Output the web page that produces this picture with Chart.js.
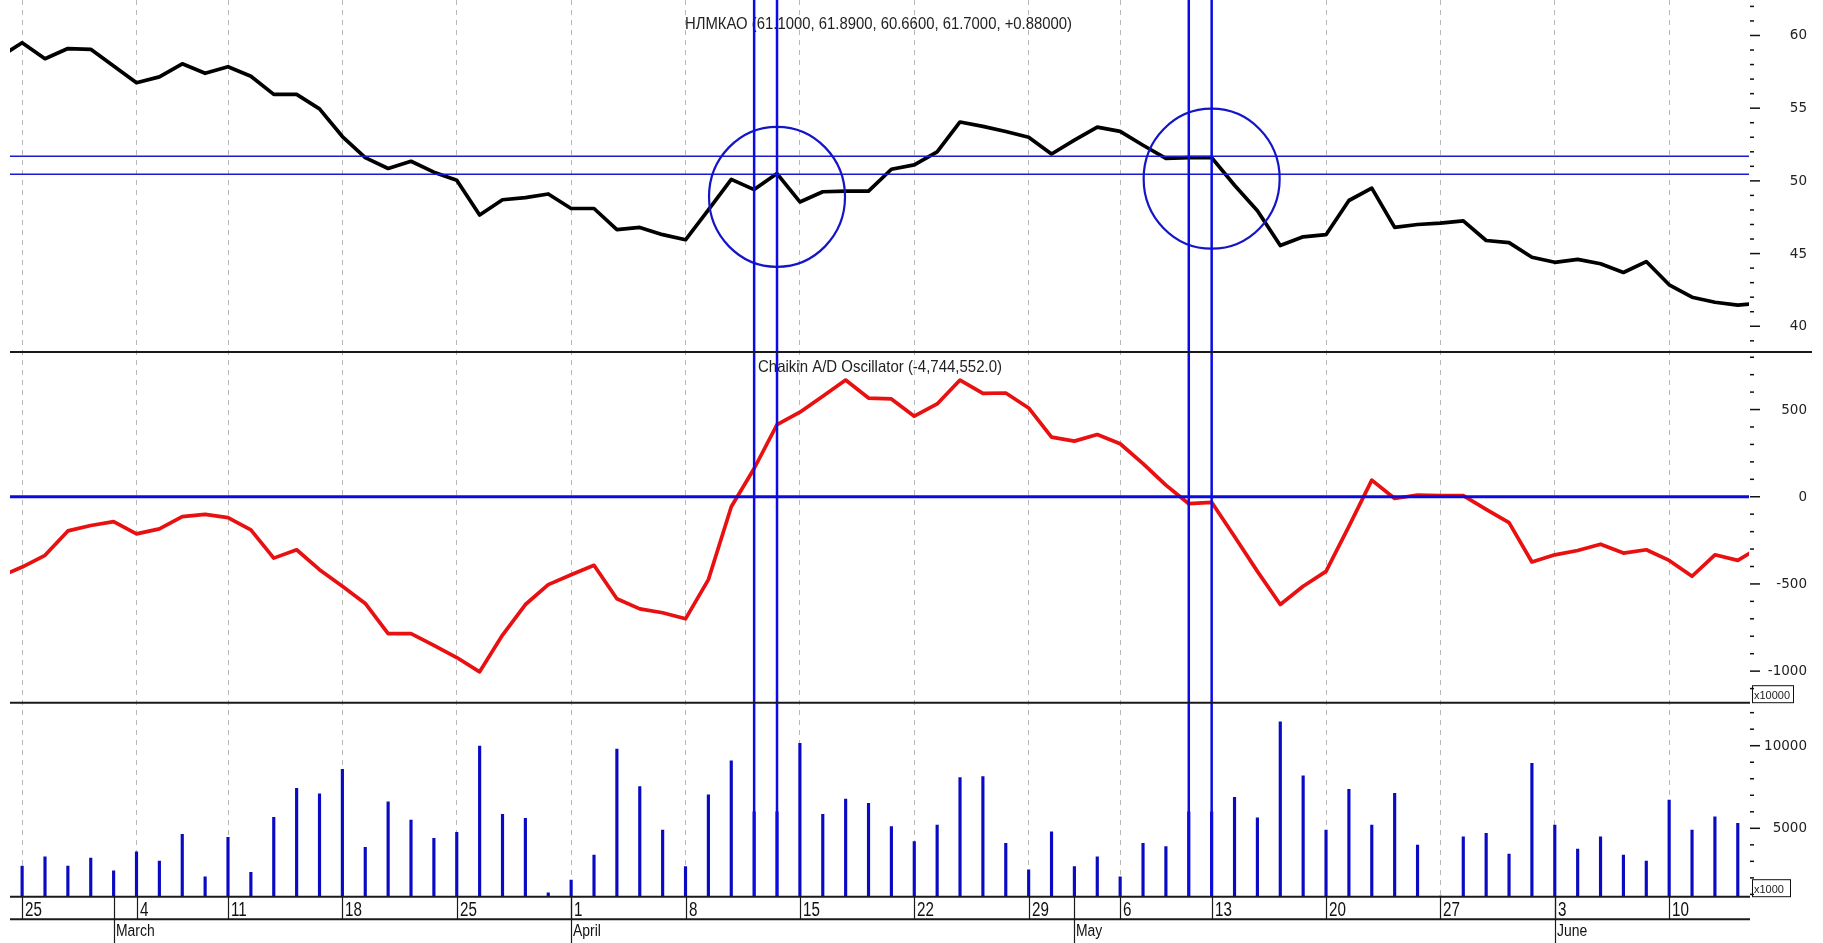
<!DOCTYPE html>
<html lang="ru">
<head>
<meta charset="UTF-8">
<title>НЛМКАО / Chaikin A/D Oscillator</title>
<script src="https://cdn.jsdelivr.net/npm/chart.js@4"></script>
<style>
  html, body { margin: 0; padding: 0; background: #fff; overflow: hidden; }
  #wrap { width: 1823px; height: 943px; }
</style>
</head>
<body>
<div id="wrap"><canvas id="chart" width="1823" height="943"></canvas></div>
<script>
// trading days (2013). First and last day only feed the line ends that get clipped at the edges
const days = [
  '2013-02-22', '2013-02-25', '2013-02-26', '2013-02-27', '2013-02-28', '2013-03-01',
  '2013-03-04', '2013-03-05', '2013-03-06', '2013-03-07',
  '2013-03-11', '2013-03-12', '2013-03-13', '2013-03-14', '2013-03-15',
  '2013-03-18', '2013-03-19', '2013-03-20', '2013-03-21', '2013-03-22',
  '2013-03-25', '2013-03-26', '2013-03-27', '2013-03-28', '2013-03-29',
  '2013-04-01', '2013-04-02', '2013-04-03', '2013-04-04', '2013-04-05',
  '2013-04-08', '2013-04-09', '2013-04-10', '2013-04-11', '2013-04-12',
  '2013-04-15', '2013-04-16', '2013-04-17', '2013-04-18', '2013-04-19',
  '2013-04-22', '2013-04-23', '2013-04-24', '2013-04-25', '2013-04-26',
  '2013-04-29', '2013-04-30', '2013-05-02', '2013-05-03',
  '2013-05-06', '2013-05-07', '2013-05-08', '2013-05-10',
  '2013-05-13', '2013-05-14', '2013-05-15', '2013-05-16', '2013-05-17',
  '2013-05-20', '2013-05-21', '2013-05-22', '2013-05-23', '2013-05-24',
  '2013-05-27', '2013-05-28', '2013-05-29', '2013-05-30', '2013-05-31',
  '2013-06-03', '2013-06-04', '2013-06-05', '2013-06-06', '2013-06-07',
  '2013-06-10', '2013-06-11', '2013-06-13', '2013-06-14', '2013-06-17'
];

// НЛМКАО close
const price = [
  58.5, 59.5, 58.4, 59.1, 59.05, 57.9,
  56.75, 57.15, 58.05, 57.4,
  57.85, 57.2, 55.95, 55.95, 54.95,
  53.05, 51.6, 50.85, 51.35, 50.6,
  50.05, 47.65, 48.7, 48.85, 49.1,
  48.1, 48.1, 46.65, 46.8, 46.3,
  45.95, 48.0, 50.1, 49.4, 50.5,
  48.55, 49.25, 49.3, 49.3, 50.8,
  51.1, 52.0, 54.05, 53.75, 53.4,
  53.0, 51.85, 52.8, 53.7,
  53.4, 52.45, 51.55, 51.6,
  51.6, 49.7, 47.95, 45.55, 46.15,
  46.3, 48.65, 49.5, 46.8, 47.0,
  47.1, 47.25, 45.9, 45.75, 44.75,
  44.4, 44.6, 44.3, 43.7, 44.45,
  42.85, 42.0, 41.65, 41.45, 41.6
];

// Chaikin A/D Oscillator, x10000
const chaikin = [
  -460, -403, -336, -196, -165, -143,
  -213, -184, -114, -101,
  -120, -190, -352, -304, -418,
  -513, -612, -785, -785, -852,
  -922, -1004, -793, -618, -504,
  -447, -393, -585, -643, -665,
  -700, -475, -57, 162, 414,
  485, 576, 669, 566, 561,
  462, 532, 669, 593, 595,
  509, 342, 319, 357,
  304, 190, 67, -40,
  -32, -228, -428, -618, -513,
  -428, -170, 95, -10, 10,
  6, 6, -72, -148, -374,
  -333, -308, -272, -323, -304,
  -365, -456, -333, -365, -285
];

// volume, x1000
const volume = [
  null, 2720, 3280, 2720, 3200, 2420,
  3570, 3020, 4640, 2070,
  4460, 2340, 5670, 7420, 7080,
  8570, 3850, 6610, 5500, 4400,
  4760, 9980, 5850, 5600, 1100,
  1870, 3380, 9800, 7520, 4900,
  2680, 7020, 9090, 6000, 6000,
  10150, 5850, 6770, 6510, 5100,
  4190, 5200, 8070, 8130, 4090,
  2480, 4790, 2680, 3280,
  2070, 4090, 3890, 6000,
  6000, 6880, 5640, 11450, 8170,
  4900, 7360, 5200, 7120, 3990,
  900, 4490, 4700, 3440, 8930,
  5200, 3750, 4490, 3380, 3020,
  6710, 4900, 5700, 5300, null
];

const monthNames = ['January', 'February', 'March', 'April', 'May', 'June', 'July'];

const priceTitle = 'НЛМКАО (61.1000, 61.8900, 60.6600, 61.7000, +0.88000)';
const oscTitle = 'Chaikin A/D Oscillator (-4,744,552.0)';

// hand-drawn marks on the original: vertical lines at days, two price levels, two circles
const markDays = [33, 34, 52, 53];
const priceLevels = [51.7, 50.45];
const circles = [{ day: 34, price: 48.9 }, { day: 53, price: 50.15 }];

// week and month starts, found from the dates
const dt = days.map(s => new Date(s + 'T00:00:00Z'));
const weekStarts = [];
const monthStarts = [];
dt.forEach((d, i) => {
  if (i === 0) return;
  if (d.getUTCDay() < dt[i - 1].getUTCDay()) weekStarts.push(i);
  if (d.getUTCMonth() !== dt[i - 1].getUTCMonth()) monthStarts.push(i);
});

const pts = arr => arr.map((v, i) => ({ x: i, y: v }));

// draws text squeezed horizontally, like the narrow font of the original
function narrowText(ctx, text, x, y, font, sx) {
  ctx.save();
  ctx.font = font;
  ctx.textBaseline = 'alphabetic';
  ctx.textAlign = 'left';
  ctx.translate(x, y);
  ctx.scale(sx, 1);
  ctx.fillText(text, 0, 0);
  ctx.restore();
}

function fitText(ctx, text, left, right, y, font) {
  ctx.save();
  ctx.font = font;
  const sx = (right - left) / ctx.measureText(text).width;
  ctx.restore();
  narrowText(ctx, text, left, y, font, sx);
}

function line(ctx, x1, y1, x2, y2) {
  ctx.beginPath();
  ctx.moveTo(x1, y1);
  ctx.lineTo(x2, y2);
  ctx.stroke();
}

const panels = {
  id: 'panels',
  beforeDatasetsDraw(chart) {
    const ctx = chart.ctx;
    ctx.fillStyle = '#222';
    const yp = chart.scales.yP, yo = chart.scales.yO;
    fitText(ctx, priceTitle, 685, 1072, yp.top + 29.3, "16.5px 'Liberation Sans', Arial, sans-serif");
    fitText(ctx, oscTitle, 758, 1002, yo.top + 19.5, "16.5px 'Liberation Sans', Arial, sans-serif");
  },
  afterDatasetsDraw(chart) {
    const ctx = chart.ctx;
    const { left, right } = chart.chartArea;
    const x = chart.scales.x, yp = chart.scales.yP, yo = chart.scales.yO;
    ctx.save();
    // price levels
    ctx.strokeStyle = '#1a1ad2';
    ctx.lineWidth = 1.5;
    priceLevels.forEach(p => {
      const y = yp.getPixelForValue(p);
      line(ctx, left, y, right, y);
    });
    // zero line of the oscillator
    ctx.strokeStyle = '#0b0be0';
    ctx.lineWidth = 3;
    const y0 = yo.getPixelForValue(0);
    line(ctx, left, y0, right, y0);
    // circles
    ctx.strokeStyle = '#1515c8';
    ctx.lineWidth = 2.2;
    circles.forEach(c => {
      ctx.beginPath();
      ctx.ellipse(x.getPixelForValue(c.day), yp.getPixelForValue(c.price), 68, 70, 0, 0, Math.PI * 2);
      ctx.stroke();
    });
    // vertical marks
    ctx.strokeStyle = '#0b0be6';
    ctx.lineWidth = 2.5;
    markDays.forEach(d => {
      const px = x.getPixelForValue(d);
      line(ctx, px, yp.top, px, x.top);
    });
    ctx.restore();
  },
  afterDraw(chart) {
    const ctx = chart.ctx;
    const { left, right } = chart.chartArea;
    const x = chart.scales.x;
    ctx.save();
    ctx.strokeStyle = '#1a1a1a';
    ctx.lineWidth = 2;
    // panel separators
    line(ctx, left, chart.scales.yP.bottom, chart.width - 11, chart.scales.yP.bottom);
    line(ctx, left, chart.scales.yO.bottom, right + 1, chart.scales.yO.bottom);

    // y axes: tick marks and labels
    const axes = [
      { s: chart.scales.yP, minor: 1, major: 5 },
      { s: chart.scales.yO, minor: 100, major: 500 },
      { s: chart.scales.yV, minor: 1000, major: 5000 }
    ];
    ctx.lineWidth = 1.5;
    ctx.strokeStyle = '#111';
    ctx.fillStyle = '#222';
    ctx.font = "13.5px 'DejaVu Sans', Verdana, sans-serif";
    ctx.textAlign = 'right';
    ctx.textBaseline = 'middle';
    axes.forEach(a => {
      const start = Math.ceil(a.s.min / a.minor) * a.minor;
      for (let v = start; v <= a.s.max; v += a.minor) {
        const y = a.s.getPixelForValue(v);
        const isMajor = Math.round(v) % a.major === 0;
        line(ctx, right + 1, y, right + (isMajor ? 11 : 5), y);
        if (isMajor) ctx.fillText(String(Math.round(v)), chart.width - 16, y + 0.5);
      }
    });

    // unit boxes
    ctx.lineWidth = 1;
    ctx.font = "11px 'Liberation Sans', Arial, sans-serif";
    ctx.textAlign = 'left';
    ctx.textBaseline = 'alphabetic';
    [[chart.scales.yO, 'x10000', 41], [chart.scales.yV, 'x1000', 38]].forEach(([s, t, w]) => {
      ctx.strokeRect(right + 3.5, s.bottom - 17, w, 17);
      ctx.fillText(t, right + 5, s.bottom - 4);
    });

    // date axis: two rows
    ctx.strokeStyle = '#1a1a1a';
    ctx.lineWidth = 2;
    const base = x.top;
    const row2 = base + 22.5;
    line(ctx, left, base, right + 1, base);
    line(ctx, left, row2, right + 1, row2);
    ctx.lineWidth = 1.2;
    ctx.fillStyle = '#111';
    weekStarts.forEach(i => {
      if (i < x.min || i > x.max) return;
      const px = Math.round(x.getPixelForValue(i)) + 0.5;
      line(ctx, px, base, px, row2);
      narrowText(ctx, String(dt[i].getUTCDate()), px + 2.5, base + 19.3,
        "20px 'Liberation Sans', Arial, sans-serif", 0.76);
    });
    monthStarts.forEach(i => {
      if (i < x.min || i > x.max) return;
      const px = Math.round(x.getPixelForValue(i)) + 0.5;
      line(ctx, px, base, px, chart.height);
      narrowText(ctx, monthNames[dt[i].getUTCMonth()], px + 1.5, base + 39,
        "16px 'Liberation Sans', Arial, sans-serif", 0.87);
    });
    ctx.restore();
  }
};

const yAxis = (min, max, weight, stackWeight) => ({
  type: 'linear',
  position: 'right',
  stack: 'panes',
  weight: weight,
  stackWeight: stackWeight,
  min: min,
  max: max,
  grid: { display: false },
  border: { display: false },
  ticks: { display: false },
  afterFit: s => { s.width = 74; }
});

new Chart(document.getElementById('chart'), {
  type: 'line',
  data: {
    datasets: [
      {
        type: 'line', label: 'НЛМКАО', data: pts(price), yAxisID: 'yP',
        borderColor: '#000', borderWidth: 3.7, pointRadius: 0, tension: 0,
        borderJoinStyle: 'round'
      },
      {
        type: 'line', label: 'Chaikin A/D Oscillator', data: pts(chaikin), yAxisID: 'yO',
        borderColor: '#e81010', borderWidth: 3.7, pointRadius: 0, tension: 0,
        borderJoinStyle: 'round'
      },
      {
        type: 'bar', label: 'Volume', data: pts(volume), yAxisID: 'yV',
        backgroundColor: '#0a0ac4', barThickness: 2.5
      }
    ]
  },
  options: {
    responsive: false,
    animation: false,
    events: [],
    layout: { padding: { left: 10, right: 0, top: 0, bottom: 0 } },
    plugins: { legend: { display: false }, tooltip: { enabled: false } },
    scales: {
      x: {
        type: 'linear',
        min: 0.47,
        max: 76.49,
        offset: false,
        afterBuildTicks: s => {
          s.ticks = weekStarts.filter(i => i >= s.min && i <= s.max).map(v => ({ value: v }));
        },
        afterFit: s => { s.height = 46.3; },
        ticks: { display: false },
        grid: { display: true, drawOnChartArea: true, drawTicks: false, offset: false, color: '#b8b8b8', lineWidth: 1 },
        border: { display: false, dash: [5, 5] }
      },
      yP: yAxis(38.23, 62.44, 1, 352),
      yO: yAxis(-1181, 830, 2, 350.7),
      yV: yAxis(860, 12603, 3, 194)
    }
  },
  plugins: [panels]
});
</script>
</body>
</html>
